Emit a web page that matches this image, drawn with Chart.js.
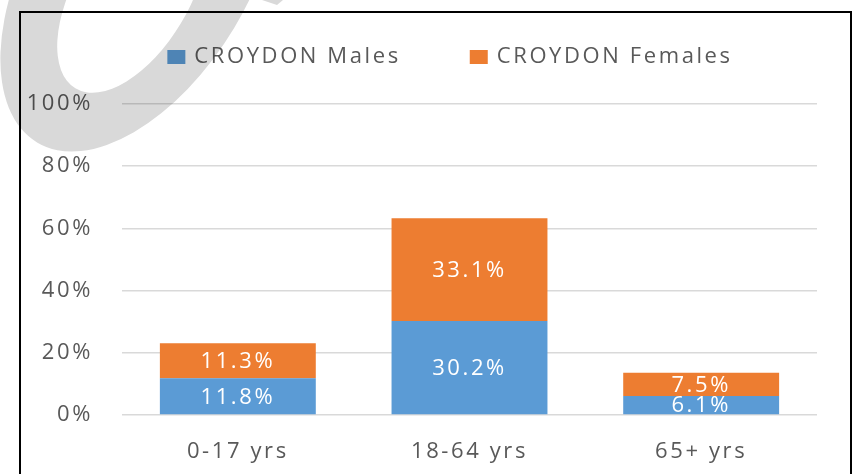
<!DOCTYPE html>
<html>
<head>
<meta charset="utf-8">
<script src="https://cdn.jsdelivr.net/npm/chart.js@4.4.0/dist/chart.umd.min.js"></script>
<style>
html, body { margin: 0; padding: 0; background: #fff; }
canvas { display: block; }
</style>
</head>
<body>
<canvas id="ageChart" width="856" height="474"></canvas>
<script>
const categories = ['0-17 yrs', '18-64 yrs', '65+ yrs'];
const malesPct = [11.8, 30.2, 6.1];
const femalesPct = [11.3, 33.1, 7.5];
const seriesNames = ['CROYDON Males', 'CROYDON Females'];
const yTickValues = [0, 20, 40, 60, 80, 100];

const BLUE = '#5b9bd5';
const ORANGE = '#ed7d31';
const TEXT = '#595959';
const FONT = '"Open Sans", sans-serif';
const FONT_SIZE = 22;
const SPACING = '2.6px';

// letter spacing has to be set on the context before measuring and drawing
function setSpacing(chart) {
    chart.ctx.letterSpacing = SPACING;
}

const spacingPlugin = {
    id: 'spacing',
    beforeLayout: setSpacing,
    beforeDraw: setSpacing
};

// frame around the chart
const framePlugin = {
    id: 'frame',
    beforeDraw(chart) {
        const ctx = chart.ctx;
        ctx.save();
        ctx.strokeStyle = '#000';
        ctx.lineWidth = 2;
        ctx.strokeRect(20, 12, 831, 500);
        ctx.restore();
    }
};

// legend drawn by hand so the gap between items can be wide
const legendPlugin = {
    id: 'customLegend',
    afterDraw(chart) {
        const ctx = chart.ctx;
        ctx.save();
        ctx.letterSpacing = SPACING;
        ctx.font = FONT_SIZE + 'px ' + FONT;
        ctx.textBaseline = 'middle';
        ctx.textAlign = 'left';
        const box = 18, gap = 9, itemGap = 69;
        const items = chart.data.datasets.map(ds => ({
            text: ds.label,
            color: ds.backgroundColor,
            w: box + gap + ctx.measureText(ds.label).width
        }));
        const total = items.reduce((s, it) => s + it.w, 0) + itemGap * (items.length - 1);
        let x = 450 - total / 2;
        const y = 57;
        items.forEach(it => {
            ctx.fillStyle = it.color;
            ctx.fillRect(x, y - 7, box, 14);
            ctx.fillStyle = TEXT;
            ctx.fillText(it.text, x + box + gap, y);
            x += it.w + itemGap;
        });
        ctx.restore();
    }
};

// value labels in the middle of each segment
const valueLabels = {
    id: 'valueLabels',
    afterDatasetsDraw(chart) {
        const ctx = chart.ctx;
        const a = chart.chartArea;
        ctx.save();
        ctx.beginPath();
        ctx.rect(a.left, a.top, a.right - a.left, a.bottom - a.top - 1);
        ctx.clip();
        ctx.letterSpacing = SPACING;
        ctx.font = FONT_SIZE + 'px ' + FONT;
        ctx.fillStyle = '#fff';
        ctx.textAlign = 'center';
        ctx.textBaseline = 'middle';
        chart.data.datasets.forEach((ds, i) => {
            chart.getDatasetMeta(i).data.forEach((bar, j) => {
                const cy = (bar.y + bar.base) / 2;
                ctx.fillText(ds.data[j].toFixed(1) + '%', bar.x, cy + 1);
            });
        });
        ctx.restore();
    }
};

// grey watermark ring in the top-left corner
const watermarkPlugin = {
    id: 'watermark',
    afterDraw(chart) {
        const ctx = chart.ctx;
        const rot = -1.03;
        ctx.save();
        ctx.globalCompositeOperation = 'multiply';
        ctx.fillStyle = '#d9d9d9';
        const p = new Path2D();
        p.ellipse(140, -29, 200, 110, rot, 0, Math.PI * 2);
        p.closePath();
        p.moveTo(132 + 110 * Math.cos(rot), -6 + 110 * Math.sin(rot));
        p.ellipse(132, -6, 110, 57, rot, 0, Math.PI * 2);
        p.closePath();
        ctx.fill(p, 'evenodd');
        ctx.beginPath();
        ctx.moveTo(262, 0);
        ctx.lineTo(283, 0);
        ctx.lineTo(277, 5);
        ctx.closePath();
        ctx.fill();
        ctx.restore();
    }
};

new Chart(document.getElementById('ageChart'), {
    type: 'bar',
    data: {
        labels: categories,
        datasets: [{
            label: seriesNames[0],
            data: malesPct,
            backgroundColor: BLUE
        }, {
            label: seriesNames[1],
            data: femalesPct,
            backgroundColor: ORANGE
        }]
    },
    options: {
        responsive: false,
        animation: false,
        events: [],
        layout: {
            padding: { top: 104, left: 20, right: 39, bottom: 0 }
        },
        plugins: {
            legend: { display: false },
            tooltip: { enabled: false }
        },
        datasets: {
            bar: {
                categoryPercentage: 1,
                barPercentage: 0.673
            }
        },
        scales: {
            x: {
                stacked: true,
                afterFit(scale) {
                    scale.height = 59;
                },
                grid: { display: false },
                border: { display: false },
                ticks: {
                    color: TEXT,
                    font: { family: FONT, size: FONT_SIZE },
                    padding: 16,
                    maxRotation: 0
                }
            },
            y: {
                stacked: true,
                min: 0,
                max: 100,
                afterBuildTicks(scale) {
                    scale.ticks = yTickValues.map(v => ({ value: v }));
                },
                afterFit(scale) {
                    scale.width = 102;
                },
                grid: {
                    color: '#d9d9d9',
                    lineWidth: 1.5,
                    drawTicks: false
                },
                border: { display: false },
                ticks: {
                    color: TEXT,
                    font: { family: FONT, size: FONT_SIZE },
                    padding: 29,
                    callback: v => v + '%'
                }
            }
        }
    },
    plugins: [spacingPlugin, framePlugin, valueLabels, legendPlugin, watermarkPlugin]
});
</script>
</body>
</html>
